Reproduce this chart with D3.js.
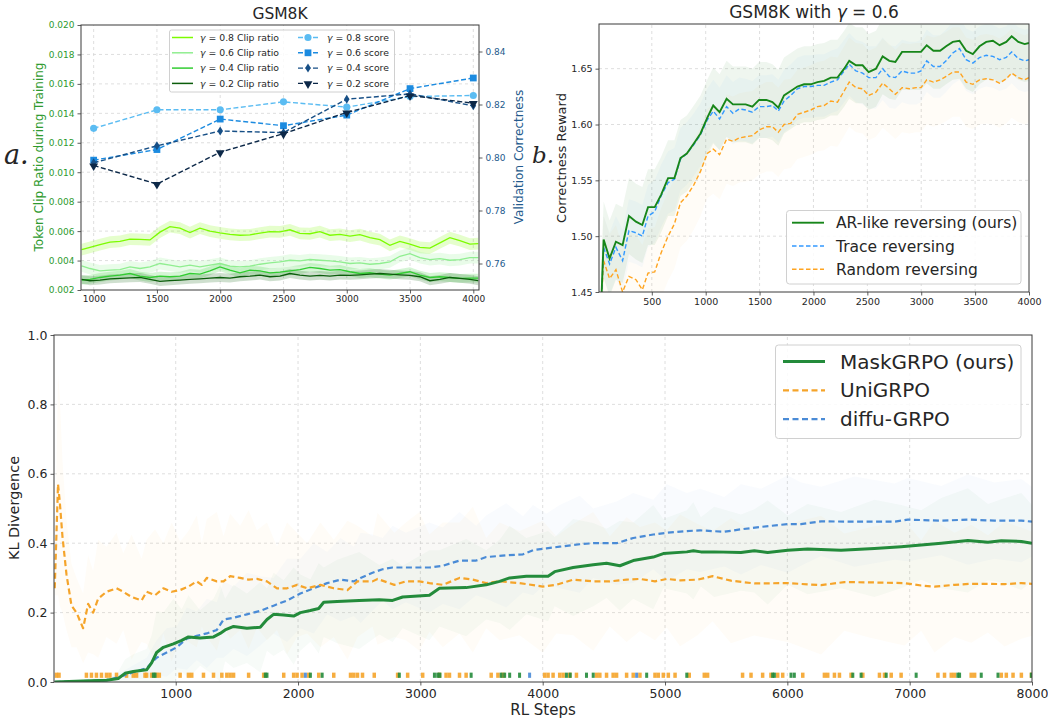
<!DOCTYPE html>
<meta charset="utf-8">
<script src="https://d3js.org/d3.v7.min.js"></script>

<style>
body {
  margin: 0;
  background: #fff;
}
svg text {
  font-family: 'DejaVu Sans', sans-serif;
  fill: #262626;
}
.grid line {
  stroke: #d6d6d6;
  stroke-width: 0.8;
  stroke-dasharray: 3 3;
}
.frame {
  fill: none;
  stroke: #3a3a3a;
  stroke-width: 1;
}
</style>

<body>
<svg id="fig" width="1048" height="719"></svg>

<script>
// ---------- panel a: GSM8K, clip ratio + validation score ----------
const clipSteps = [905, 971, 1050, 1129, 1208, 1287, 1366, 1445, 1524, 1603, 1682, 1761, 1840, 1919, 1998,
  2077, 2156, 2235, 2314, 2393, 2472, 2551, 2630, 2709, 2788, 2867, 2946, 3025, 3104, 3183, 3262, 3341,
  3420, 3499, 3578, 3657, 3736, 3815, 3894, 3973, 4039];
const clip08 = [0.00474, 0.00490, 0.00508, 0.00525, 0.00530, 0.00545, 0.00544, 0.00540, 0.00593, 0.00630,
  0.00620, 0.00590, 0.00620, 0.00600, 0.00588, 0.00578, 0.00572, 0.00574, 0.00587, 0.00596, 0.00595, 0.00609,
  0.00585, 0.00582, 0.00596, 0.00572, 0.00578, 0.00566, 0.00576, 0.00556, 0.00542, 0.00503, 0.00530, 0.00512,
  0.00490, 0.00485, 0.00520, 0.00555, 0.00535, 0.00512, 0.00515];
const clip06 = [0.00364, 0.00346, 0.00330, 0.00335, 0.00339, 0.00357, 0.00346, 0.00357, 0.00380, 0.00369,
  0.00357, 0.00369, 0.00357, 0.00369, 0.00380, 0.00362, 0.00357, 0.00362, 0.00375, 0.00384, 0.00391, 0.00402,
  0.00398, 0.00407, 0.00402, 0.00398, 0.00391, 0.00380, 0.00384, 0.00375, 0.00380, 0.00391, 0.00429, 0.00447,
  0.00420, 0.00407, 0.00413, 0.00402, 0.00407, 0.00420, 0.00420];
const clip04 = [0.00267, 0.00272, 0.00285, 0.00294, 0.00301, 0.00312, 0.00294, 0.00285, 0.00294, 0.00290,
  0.00294, 0.00312, 0.00308, 0.00330, 0.00357, 0.00335, 0.00317, 0.00335, 0.00330, 0.00317, 0.00321, 0.00330,
  0.00339, 0.00353, 0.00346, 0.00335, 0.00339, 0.00324, 0.00312, 0.00317, 0.00308, 0.00301, 0.00312, 0.00324,
  0.00301, 0.00285, 0.00290, 0.00285, 0.00279, 0.00281, 0.00281];
const clip02 = [0.00272, 0.00263, 0.00267, 0.00276, 0.00279, 0.00283, 0.00285, 0.00272, 0.00258, 0.00263,
  0.00267, 0.00272, 0.00276, 0.00281, 0.00285, 0.00281, 0.00290, 0.00294, 0.00301, 0.00290, 0.00294, 0.00312,
  0.00301, 0.00294, 0.00299, 0.00294, 0.00301, 0.00299, 0.00303, 0.00308, 0.00312, 0.00308, 0.00303, 0.00299,
  0.00290, 0.00263, 0.00272, 0.00285, 0.00279, 0.00272, 0.00263];
const clipSpread = [0.0004, 0.0004, 0.0003, 0.0003];

const scoreSteps = [1000, 1500, 2000, 2500, 3000, 3500, 4000];
const score08 = [0.811, 0.818, 0.818, 0.821, 0.819, 0.823, 0.8234];
const score06 = [0.799, 0.803, 0.8145, 0.812, 0.816, 0.826, 0.830];
const score04 = [0.798, 0.8044, 0.810, 0.8094, 0.822, 0.824, 0.8195];
const score02 = [0.797, 0.790, 0.802, 0.809, 0.817, 0.8234, 0.8205];

const gammas = ['0.8', '0.6', '0.4', '0.2'];
const xTicksA = [1000, 1500, 2000, 2500, 3000, 3500, 4000];
const yTicksA = [0.002, 0.004, 0.006, 0.008, 0.010, 0.012, 0.014, 0.016, 0.018, 0.020];
const yTicksA2 = [0.76, 0.78, 0.80, 0.82, 0.84];

// ---------- panel b: GSM8K with gamma = 0.6 ----------
const stepsB = [31, 53, 108, 167, 229, 288, 353, 412, 465, 527, 586, 651, 710, 766, 825, 890, 952, 1014,
  1070, 1129, 1194, 1253, 1312, 1371, 1433, 1495, 1563, 1619, 1674, 1727, 1789, 1851, 1913, 1975, 2037,
  2099, 2161, 2223, 2285, 2332, 2394, 2456, 2512, 2580, 2642, 2704, 2760, 2822, 2890, 2952, 2998, 3051,
  3113, 3175, 3231, 3293, 3355, 3417, 3479, 3541, 3603, 3665, 3727, 3789, 3839, 3901, 3960, 4000];
const arLike = [1.44, 1.497, 1.480, 1.495, 1.492, 1.518, 1.513, 1.510, 1.526, 1.526, 1.537, 1.552, 1.552,
  1.570, 1.574, 1.583, 1.592, 1.606, 1.617, 1.611, 1.623, 1.618, 1.618, 1.618, 1.616, 1.622, 1.622, 1.620,
  1.615, 1.626, 1.630, 1.634, 1.636, 1.636, 1.638, 1.639, 1.642, 1.642, 1.650, 1.657, 1.653, 1.653, 1.647,
  1.650, 1.661, 1.657, 1.656, 1.665, 1.665, 1.665, 1.665, 1.671, 1.666, 1.666, 1.670, 1.674, 1.675, 1.666,
  1.663, 1.670, 1.674, 1.675, 1.671, 1.674, 1.679, 1.674, 1.672, 1.673];
const traceRev = [1.44, 1.490, 1.475, 1.490, 1.478, 1.505, 1.503, 1.500, 1.518, 1.522, 1.536, 1.548, 1.551,
  1.569, 1.574, 1.582, 1.591, 1.604, 1.612, 1.605, 1.616, 1.610, 1.614, 1.613, 1.611, 1.616, 1.616, 1.617,
  1.612, 1.621, 1.626, 1.632, 1.634, 1.634, 1.635, 1.635, 1.638, 1.640, 1.648, 1.654, 1.648, 1.646, 1.642,
  1.642, 1.650, 1.643, 1.642, 1.648, 1.646, 1.646, 1.648, 1.657, 1.652, 1.652, 1.657, 1.664, 1.668, 1.658,
  1.655, 1.660, 1.662, 1.661, 1.658, 1.660, 1.665, 1.659, 1.657, 1.658];
const randomRev = [1.44, 1.478, 1.462, 1.470, 1.450, 1.464, 1.461, 1.452, 1.467, 1.468, 1.485, 1.500, 1.511,
  1.530, 1.536, 1.546, 1.558, 1.574, 1.578, 1.573, 1.587, 1.585, 1.588, 1.589, 1.590, 1.595, 1.598, 1.598,
  1.593, 1.600, 1.601, 1.609, 1.611, 1.613, 1.616, 1.617, 1.621, 1.620, 1.630, 1.638, 1.633, 1.632, 1.626,
  1.629, 1.637, 1.632, 1.627, 1.633, 1.632, 1.633, 1.633, 1.640, 1.638, 1.640, 1.643, 1.647, 1.647, 1.638,
  1.636, 1.640, 1.641, 1.640, 1.637, 1.641, 1.646, 1.642, 1.640, 1.642];
const spreadB = [0.034, 0.028, 0.04];
const xTicksB = [500, 1000, 1500, 2000, 2500, 3000, 3500, 4000];
const yTicksB = [1.45, 1.50, 1.55, 1.60, 1.65];

// ---------- panel c: KL divergence ----------
const stepsUni = [11, 38, 52, 74, 107, 148, 189, 243, 284, 325, 366, 434, 516, 571, 639, 721, 762, 831, 899,
  967, 1036, 1104, 1172, 1213, 1254, 1336, 1391, 1445, 1527, 1596, 1664, 1746, 1828, 1910, 1992, 2074, 2183,
  2292, 2404, 2486, 2609, 2650, 2787, 2882, 2992, 3074, 3183, 3320, 3429, 3538, 3648, 3811, 4000, 4112,
  4249, 4413, 4549, 4686, 4795, 4918, 5014, 5123, 5266, 5389, 5539, 5730, 6003, 6276, 6466, 6685, 6958,
  7094, 7203, 7367, 7503, 7640, 7776, 7913, 8000];
const klUni = [0.27, 0.57, 0.52, 0.42, 0.31, 0.22, 0.20, 0.155, 0.225, 0.20, 0.24, 0.26, 0.27, 0.26, 0.245,
  0.235, 0.26, 0.25, 0.27, 0.26, 0.265, 0.275, 0.29, 0.28, 0.30, 0.29, 0.29, 0.305, 0.30, 0.295, 0.297, 0.29,
  0.27, 0.27, 0.28, 0.27, 0.28, 0.27, 0.265, 0.29, 0.29, 0.297, 0.28, 0.29, 0.29, 0.285, 0.28, 0.30, 0.295,
  0.285, 0.29, 0.285, 0.275, 0.28, 0.295, 0.29, 0.29, 0.295, 0.297, 0.29, 0.297, 0.293, 0.295, 0.305, 0.292,
  0.284, 0.285, 0.279, 0.288, 0.287, 0.285, 0.278, 0.275, 0.28, 0.283, 0.283, 0.282, 0.285, 0.283];
const spreadUni = [0.02, 0.32, 0.30, 0.22, 0.16, 0.12, 0.10, 0.10, 0.14, 0.12, 0.17, 0.13, 0.16, 0.11, 0.18,
  0.12, 0.15, 0.19, 0.13, 0.20, 0.14, 0.16, 0.19, 0.12, 0.17, 0.20, 0.13, 0.18, 0.15, 0.20, 0.14, 0.17, 0.12,
  0.19, 0.15, 0.13, 0.18, 0.14, 0.20, 0.16, 0.13, 0.19, 0.15, 0.17, 0.20, 0.14, 0.18, 0.16, 0.21, 0.13, 0.17,
  0.15, 0.19, 0.14, 0.16, 0.20, 0.13, 0.18, 0.15, 0.17, 0.14, 0.19, 0.16, 0.13, 0.18, 0.15, 0.17, 0.20, 0.14,
  0.16, 0.18, 0.13, 0.19, 0.15, 0.17, 0.14, 0.18, 0.16, 0.15];

const stepsMask = [11, 243, 434, 530, 585, 653, 762, 803, 844, 899, 981, 1049, 1104, 1199, 1309, 1363, 1404,
  1473, 1582, 1691, 1746, 1800, 1882, 1964, 2019, 2101, 2169, 2210, 2320, 2500, 2664, 2773, 2855, 3074,
  3156, 3374, 3538, 3648, 3730, 3866, 4044, 4098, 4249, 4413, 4522, 4631, 4740, 4904, 4986, 5178, 5232,
  5293, 5402, 5621, 5730, 5839, 6003, 6166, 6439, 6712, 6930, 7094, 7258, 7476, 7640, 7749, 7913, 8000];
const klMask = [0.0, 0.003, 0.005, 0.01, 0.025, 0.03, 0.035, 0.055, 0.085, 0.10, 0.11, 0.12, 0.13, 0.127,
  0.13, 0.14, 0.15, 0.16, 0.155, 0.158, 0.18, 0.195, 0.193, 0.19, 0.20, 0.206, 0.212, 0.23, 0.232, 0.235,
  0.237, 0.235, 0.245, 0.25, 0.27, 0.272, 0.28, 0.29, 0.30, 0.305, 0.305, 0.318, 0.33, 0.338, 0.342, 0.335,
  0.35, 0.36, 0.37, 0.375, 0.378, 0.375, 0.375, 0.373, 0.378, 0.373, 0.38, 0.383, 0.38, 0.385, 0.39, 0.395,
  0.40, 0.408, 0.403, 0.407, 0.405, 0.40];
const spreadMask = [0, 0.004, 0.01, 0.02, 0.04, 0.05, 0.06, 0.08, 0.12, 0.10, 0.13, 0.09, 0.12, 0.08, 0.11,
  0.14, 0.09, 0.12, 0.10, 0.13, 0.09, 0.12, 0.10, 0.14, 0.11, 0.09, 0.13, 0.10, 0.12, 0.14, 0.10, 0.12, 0.09,
  0.13, 0.11, 0.14, 0.10, 0.12, 0.15, 0.11, 0.13, 0.10, 0.14, 0.12, 0.10, 0.13, 0.11, 0.15, 0.10, 0.12, 0.14,
  0.10, 0.13, 0.11, 0.12, 0.15, 0.10, 0.13, 0.11, 0.14, 0.12, 0.10, 0.13, 0.15, 0.11, 0.12, 0.14, 0.11];

const stepsDiffu = [11, 434, 544, 653, 762, 844, 926, 1008, 1090, 1172, 1254, 1336, 1391, 1473, 1582, 1691,
  1800, 1910, 2019, 2128, 2238, 2347, 2456, 2511, 2609, 2691, 2773, 2882, 3074, 3183, 3320, 3456, 3538,
  3702, 3839, 3921, 4030, 4139, 4303, 4413, 4604, 4740, 4904, 5014, 5178, 5287, 5484, 5621, 5785, 6003,
  6112, 6276, 6548, 6876, 6985, 7258, 7476, 7694, 7913, 8000];
const klDiffu = [0.0, 0.005, 0.015, 0.028, 0.04, 0.07, 0.085, 0.10, 0.125, 0.133, 0.14, 0.15, 0.18, 0.185,
  0.195, 0.205, 0.22, 0.235, 0.255, 0.27, 0.285, 0.295, 0.29, 0.30, 0.315, 0.325, 0.33, 0.33, 0.33, 0.335,
  0.35, 0.35, 0.36, 0.365, 0.368, 0.38, 0.385, 0.39, 0.397, 0.40, 0.40, 0.415, 0.425, 0.43, 0.435, 0.437,
  0.433, 0.44, 0.447, 0.455, 0.455, 0.463, 0.462, 0.462, 0.468, 0.465, 0.468, 0.465, 0.465, 0.462];
const spreadDiffu = [0, 0.005, 0.01, 0.02, 0.03, 0.05, 0.07, 0.06, 0.09, 0.07, 0.10, 0.08, 0.11, 0.09, 0.12,
  0.10, 0.08, 0.12, 0.10, 0.13, 0.09, 0.12, 0.10, 0.13, 0.11, 0.09, 0.12, 0.10, 0.13, 0.11, 0.14, 0.10, 0.12,
  0.15, 0.11, 0.13, 0.10, 0.12, 0.14, 0.10, 0.12, 0.13, 0.10, 0.14, 0.11, 0.12, 0.10, 0.13, 0.11, 0.14, 0.12,
  0.10, 0.13, 0.11, 0.12, 0.10, 0.13, 0.11, 0.12, 0.10];

// short tick marks drawn along the bottom of panel c
const rugUni = [25, 46, 270, 311, 352, 393, 434, 462, 516, 598, 653, 680, 749, 762, 803, 844, 866, 1036, 1104,
  1131, 1227, 1309, 1377, 1418, 1445, 1473, 1596, 1719, 1883, 1964, 1992, 2033, 2087, 2169, 2292, 2429, 2456,
  2486, 2527, 2623, 2814, 2896, 3019, 3156, 3210, 3238, 3320, 3374, 3579, 3634, 3675, 4016, 4044, 4085, 4139,
  4167, 4221, 4276, 4440, 4467, 4522, 4576, 4604, 4686, 4740, 4795, 4918, 4945, 4986, 5027, 5082, 5198, 5321,
  5348, 5634, 5703, 5798, 5866, 5921, 5962, 6126, 6303, 6330, 6385, 6426, 6521, 6617, 6753, 6794, 6849, 6930,
  7231, 7285, 7340, 7367, 7503, 7531, 7749, 7790, 7845, 7913, 7995];
const rugMask = [817, 831, 1732, 1746, 2101, 2197, 2828, 3115, 3142, 3160, 3415, 3661, 3689, 3730, 3811, 4194,
  4225, 4358, 4413, 4850, 5178, 5880, 5894, 6030, 6057, 6535, 6603, 6808, 7053, 7394, 7408, 7585, 7722, 7995];
const rugDiffu = [2060, 3893, 4768];

const xTicksC = [1000, 2000, 3000, 4000, 5000, 6000, 7000, 8000];
const yTicksC = [0.0, 0.2, 0.4, 0.6, 0.8, 1.0];

// ------------------------------------------------------------------
const svg = d3.select('#fig');

const clipGreens = ['#7cfc00', '#90ee90', '#32cd32', '#0b5d0b'];
const scoreBlues = ['#5bbcf2', '#1c8be0', '#174f86', '#0c2848'];
const leftColor = '#2e9a2e';
const rightColor = '#245a8c';
const intFmt = d3.format('d');

function clipRect(id, x0, y0, x1, y1) {
  svg.append('clipPath').attr('id', id)
    .append('rect').attr('x', x0).attr('y', y0).attr('width', x1 - x0).attr('height', y1 - y0);
}

function gridLines(x, y, xt, yt) {
  const g = svg.append('g').attr('class', 'grid');
  g.selectAll('.gx').data(xt).enter().append('line')
    .attr('x1', d => x(d)).attr('x2', d => x(d))
    .attr('y1', y.range()[0]).attr('y2', y.range()[1]);
  g.selectAll('.gy').data(yt).enter().append('line')
    .attr('y1', d => y(d)).attr('y2', d => y(d))
    .attr('x1', x.range()[0]).attr('x2', x.range()[1]);
}

function styleAxis(g, size, color) {
  g.select('.domain').remove();
  g.selectAll('.tick line').attr('stroke', '#333').attr('stroke-width', 0.8);
  g.selectAll('.tick text').attr('font-size', size).style('fill', color || '#262626');
}

function frame(x, y) {
  svg.append('rect').attr('class', 'frame')
    .attr('x', x.range()[0]).attr('y', y.range()[1])
    .attr('width', x.range()[1] - x.range()[0])
    .attr('height', y.range()[0] - y.range()[1]);
}

function gammaText(sel, g, rest) {
  sel.append('tspan').attr('font-style', 'italic').text('γ');
  sel.append('tspan').text(' = ' + g + rest);
}

// ================= panel a =================
const xA = d3.scaleLinear().domain([900, 4045]).range([81, 479]);
const yA = d3.scaleLinear().domain([0.002, 0.020]).range([290, 25]);
const yA2 = d3.scaleLinear().domain([0.75, 0.85]).range([290, 25]);
clipRect('clipA', 81, 25, 479, 290);
gridLines(xA, yA, xTicksA, yTicksA.slice(1, -1));

const clipSeries = [clip08, clip06, clip04, clip02];
const gA = svg.append('g').attr('clip-path', 'url(#clipA)');
clipSeries.forEach((vals, k) => {
  const pts = clipSteps.map((s, i) => ({ s, v: vals[i] }));
  gA.append('path').datum(pts)
    .attr('fill', clipGreens[k]).attr('opacity', 0.2)
    .attr('d', d3.area().x(d => xA(d.s)).y0(d => yA(d.v - clipSpread[k])).y1(d => yA(d.v + clipSpread[k])));
});
clipSeries.forEach((vals, k) => {
  const pts = clipSteps.map((s, i) => ({ s, v: vals[i] }));
  gA.append('path').datum(pts)
    .attr('fill', 'none').attr('stroke', clipGreens[k]).attr('stroke-width', 1.3)
    .attr('d', d3.line().x(d => xA(d.s)).y(d => yA(d.v)));
});

const scoreSeries = [score08, score06, score04, score02];
const symbols = [d3.symbolCircle, d3.symbolSquare, 'diamond', d3.symbolTriangle];

function marker(sel, k, cx, cy) {
  if (k === 2) {
    sel.append('path').attr('d', `M${cx},${cy - 4.5}L${cx + 2.8},${cy}L${cx},${cy + 4.5}L${cx - 2.8},${cy}Z`)
      .attr('fill', scoreBlues[k]);
  } else if (k === 3) {
    sel.append('path').attr('d', d3.symbol().type(d3.symbolTriangle).size(34)())
      .attr('transform', `translate(${cx},${cy + 0.5}) rotate(180)`).attr('fill', scoreBlues[k]);
  } else {
    sel.append('path').attr('d', d3.symbol().type(symbols[k]).size(k === 0 ? 40 : 46)())
      .attr('transform', `translate(${cx},${cy})`).attr('fill', scoreBlues[k]);
  }
}

scoreSeries.forEach((vals, k) => {
  const pts = scoreSteps.map((s, i) => ({ s, v: vals[i] }));
  svg.append('path').datum(pts)
    .attr('fill', 'none').attr('stroke', scoreBlues[k]).attr('stroke-width', 1.4)
    .attr('stroke-dasharray', '5,2.5')
    .attr('d', d3.line().x(d => xA(d.s)).y(d => yA2(d.v)));
  const mg = svg.append('g');
  pts.forEach(p => marker(mg, k, xA(p.s), yA2(p.v)));
});

svg.append('g').attr('transform', 'translate(0,290)')
  .call(d3.axisBottom(xA).tickValues(xTicksA).tickFormat(intFmt).tickSize(3.5).tickPadding(2.5))
  .call(g => styleAxis(g, 9));
svg.append('g').attr('transform', 'translate(81,0)')
  .call(d3.axisLeft(yA).tickValues(yTicksA).tickFormat(d3.format('.3f')).tickSize(3.5).tickPadding(3))
  .call(g => styleAxis(g, 9, leftColor));
svg.append('g').attr('transform', 'translate(479,0)')
  .call(d3.axisRight(yA2).tickValues(yTicksA2).tickFormat(d3.format('.2f')).tickSize(3.5).tickPadding(3))
  .call(g => styleAxis(g, 9, rightColor));
frame(xA, yA);

svg.append('text').attr('x', 280).attr('y', 19).attr('text-anchor', 'middle')
  .attr('font-size', 15.5).text('GSM8K');
svg.append('text').attr('transform', 'translate(43,157) rotate(-90)').attr('text-anchor', 'middle')
  .attr('font-size', 12).style('fill', leftColor).text('Token Clip Ratio during Training');
svg.append('text').attr('transform', 'translate(523,157) rotate(-90)').attr('text-anchor', 'middle')
  .attr('font-size', 12).style('fill', rightColor).text('Validation Correctness');
svg.append('text').attr('x', 4).attr('y', 164)
  .attr('font-style', 'italic').attr('font-size', 27)
  .style('font-family', "'DejaVu Serif', serif").text('a.');

// legend a
const legA = svg.append('g');
legA.append('rect').attr('x', 169.5).attr('y', 30).attr('width', 225).attr('height', 62).attr('rx', 2)
  .attr('fill', '#fff').attr('fill-opacity', 0.85).attr('stroke', '#d0d0d0');
gammas.forEach((g, k) => {
  const yy = 37.5 + k * 15.3;
  legA.append('line').attr('x1', 172).attr('x2', 193).attr('y1', yy).attr('y2', yy)
    .attr('stroke', clipGreens[k]).attr('stroke-width', 1.5);
  legA.append('text').attr('x', 200).attr('y', yy + 3.3).attr('font-size', 9.3)
    .call(t => gammaText(t, g, ' Clip ratio'));
  legA.append('line').attr('x1', 298).attr('x2', 318).attr('y1', yy).attr('y2', yy)
    .attr('stroke', scoreBlues[k]).attr('stroke-width', 1.4).attr('stroke-dasharray', '5,2.5');
  marker(legA, k, 308, yy);
  legA.append('text').attr('x', 327).attr('y', yy + 3.3).attr('font-size', 9.3)
    .call(t => gammaText(t, g, ' score'));
});

// ================= panel b =================
const xB = d3.scaleLinear().domain([10, 4000]).range([599, 1029]);
const yB = d3.scaleLinear().domain([1.45, 1.69]).range([292, 24]);
clipRect('clipB', 599, 24, 1029, 292);
gridLines(xB, yB, xTicksB.slice(0, -1), yTicksB.slice(1));

const seriesB = [
  { name: 'AR-like reversing (ours)', vals: arLike, color: '#17861a', dash: null, w: 1.9, band: 0.07 },
  { name: 'Trace reversing', vals: traceRev, color: '#3399ff', dash: '4.5,2.5', w: 1.4, band: 0.04 },
  { name: 'Random reversing', vals: randomRev, color: '#ffa420', dash: '4.5,2.5', w: 1.4, band: 0.035 }
];
const gB = svg.append('g').attr('clip-path', 'url(#clipB)');
seriesB.forEach((s, k) => {
  const pts = stepsB.map((st, i) => ({ s: st, v: s.vals[i] }));
  gB.append('path').datum(pts).attr('fill', s.color).attr('opacity', s.band)
    .attr('d', d3.area().x(d => xB(d.s)).y0(d => yB(d.v - spreadB[k])).y1(d => yB(d.v + spreadB[k])));
});
seriesB.slice().reverse().forEach(s => {
  const pts = stepsB.map((st, i) => ({ s: st, v: s.vals[i] }));
  gB.append('path').datum(pts).attr('fill', 'none').attr('stroke', s.color)
    .attr('stroke-width', s.w).attr('stroke-dasharray', s.dash)
    .attr('d', d3.line().x(d => xB(d.s)).y(d => yB(d.v)));
});

svg.append('g').attr('transform', 'translate(0,292)')
  .call(d3.axisBottom(xB).tickValues(xTicksB).tickFormat(intFmt).tickSize(3.5).tickPadding(3))
  .call(g => styleAxis(g, 9.5));
svg.append('g').attr('transform', 'translate(599,0)')
  .call(d3.axisLeft(yB).tickValues(yTicksB).tickFormat(d3.format('.2f')).tickSize(3.5).tickPadding(3))
  .call(g => styleAxis(g, 9.5));
frame(xB, yB);

svg.append('text').attr('x', 814).attr('y', 18).attr('text-anchor', 'middle').attr('font-size', 17)
  .call(t => { t.append('tspan').text('GSM8K with '); gammaText(t, '0.6', ''); });
svg.append('text').attr('transform', 'translate(566,158) rotate(-90)').attr('text-anchor', 'middle')
  .attr('font-size', 13).text('Correctness Reward');
svg.append('text').attr('x', 532).attr('y', 163)
  .attr('font-style', 'italic').attr('font-size', 23)
  .style('font-family', "'DejaVu Serif', serif").text('b.');

const legB = svg.append('g');
legB.append('rect').attr('x', 786.5).attr('y', 210.5).attr('width', 234.5).attr('height', 73.5).attr('rx', 3)
  .attr('fill', '#fff').attr('fill-opacity', 0.85).attr('stroke', '#d0d0d0');
seriesB.forEach((s, k) => {
  const yy = 222.7 + k * 23.3;
  legB.append('line').attr('x1', 792).attr('x2', 824).attr('y1', yy).attr('y2', yy)
    .attr('stroke', s.color).attr('stroke-width', s.w).attr('stroke-dasharray', s.dash);
  legB.append('text').attr('x', 836).attr('y', yy + 5.5).attr('font-size', 15.5).text(s.name);
});

// ================= panel c =================
const xC = d3.scaleLinear().domain([5, 8000]).range([54, 1032]);
const yC = d3.scaleLinear().domain([0, 1]).range([682, 335]);
clipRect('clipC', 54, 335, 1032, 682);
gridLines(xC, yC, xTicksC.slice(0, -1), yTicksC.slice(1, -1));

const seriesC = [
  { name: 'MaskGRPO (ours)', steps: stepsMask, vals: klMask, spread: spreadMask, color: '#238b3b', dash: null, w: 3, band: 0.035 },
  { name: 'UniGRPO', steps: stepsUni, vals: klUni, spread: spreadUni, color: '#f5a42a', dash: '6,3.5', w: 2.2, band: 0.035 },
  { name: 'diffu-GRPO', steps: stepsDiffu, vals: klDiffu, spread: spreadDiffu, color: '#4a8bd6', dash: '6,3.5', w: 2.2, band: 0.03 }
];
const gC = svg.append('g').attr('clip-path', 'url(#clipC)');
seriesC.forEach(s => {
  const pts = s.steps.map((st, i) => ({ s: st, v: s.vals[i], e: s.spread[i] ?? s.spread[s.spread.length - 1] }));
  gC.append('path').datum(pts).attr('fill', s.color).attr('opacity', s.band)
    .attr('d', d3.area().x(d => xC(d.s)).y0(d => yC(Math.max(0, d.v - d.e))).y1(d => yC(d.v + d.e)));
});

const rugs = [
  { pos: rugUni, color: '#f5a42a', w: 3.5 },
  { pos: rugMask, color: '#238b3b', w: 3 },
  { pos: rugDiffu, color: '#4a8bd6', w: 3 }
];
rugs.forEach(r => {
  gC.selectAll(null).data(r.pos).enter().append('rect')
    .attr('x', d => xC(d) - r.w / 2).attr('width', r.w)
    .attr('y', yC(0.027)).attr('height', yC(0.012) - yC(0.027))
    .attr('fill', r.color).attr('opacity', 0.9);
});

[seriesC[2], seriesC[1], seriesC[0]].forEach(s => {
  const pts = s.steps.map((st, i) => ({ s: st, v: s.vals[i] }));
  gC.append('path').datum(pts).attr('fill', 'none').attr('stroke', s.color)
    .attr('stroke-width', s.w).attr('stroke-dasharray', s.dash).attr('stroke-linejoin', 'round')
    .attr('d', d3.line().x(d => xC(d.s)).y(d => yC(d.v)));
});

svg.append('g').attr('transform', 'translate(0,682)')
  .call(d3.axisBottom(xC).tickValues(xTicksC).tickFormat(intFmt).tickSize(3.5).tickPadding(4))
  .call(g => styleAxis(g, 12.5));
svg.append('g').attr('transform', 'translate(54,0)')
  .call(d3.axisLeft(yC).tickValues(yTicksC).tickFormat(d3.format('.1f')).tickSize(3.5).tickPadding(3))
  .call(g => styleAxis(g, 12.5));
frame(xC, yC);

svg.append('text').attr('x', 543).attr('y', 714.5).attr('text-anchor', 'middle')
  .attr('font-size', 15).text('RL Steps');
svg.append('text').attr('transform', 'translate(19,508) rotate(-90)').attr('text-anchor', 'middle')
  .attr('font-size', 14.4).text('KL Divergence');

const legC = svg.append('g');
legC.append('rect').attr('x', 775.5).attr('y', 345).attr('width', 245.5).attr('height', 93.5).attr('rx', 3)
  .attr('fill', '#fff').attr('fill-opacity', 0.85).attr('stroke', '#d0d0d0');
seriesC.forEach((s, k) => {
  const yy = 361.5 + k * 28.8;
  legC.append('line').attr('x1', 783).attr('x2', 825).attr('y1', yy).attr('y2', yy)
    .attr('stroke', s.color).attr('stroke-width', s.w).attr('stroke-dasharray', s.dash);
  legC.append('text').attr('x', 840).attr('y', yy + 7).attr('font-size', 20).text(s.name);
});
</script>
</body>
